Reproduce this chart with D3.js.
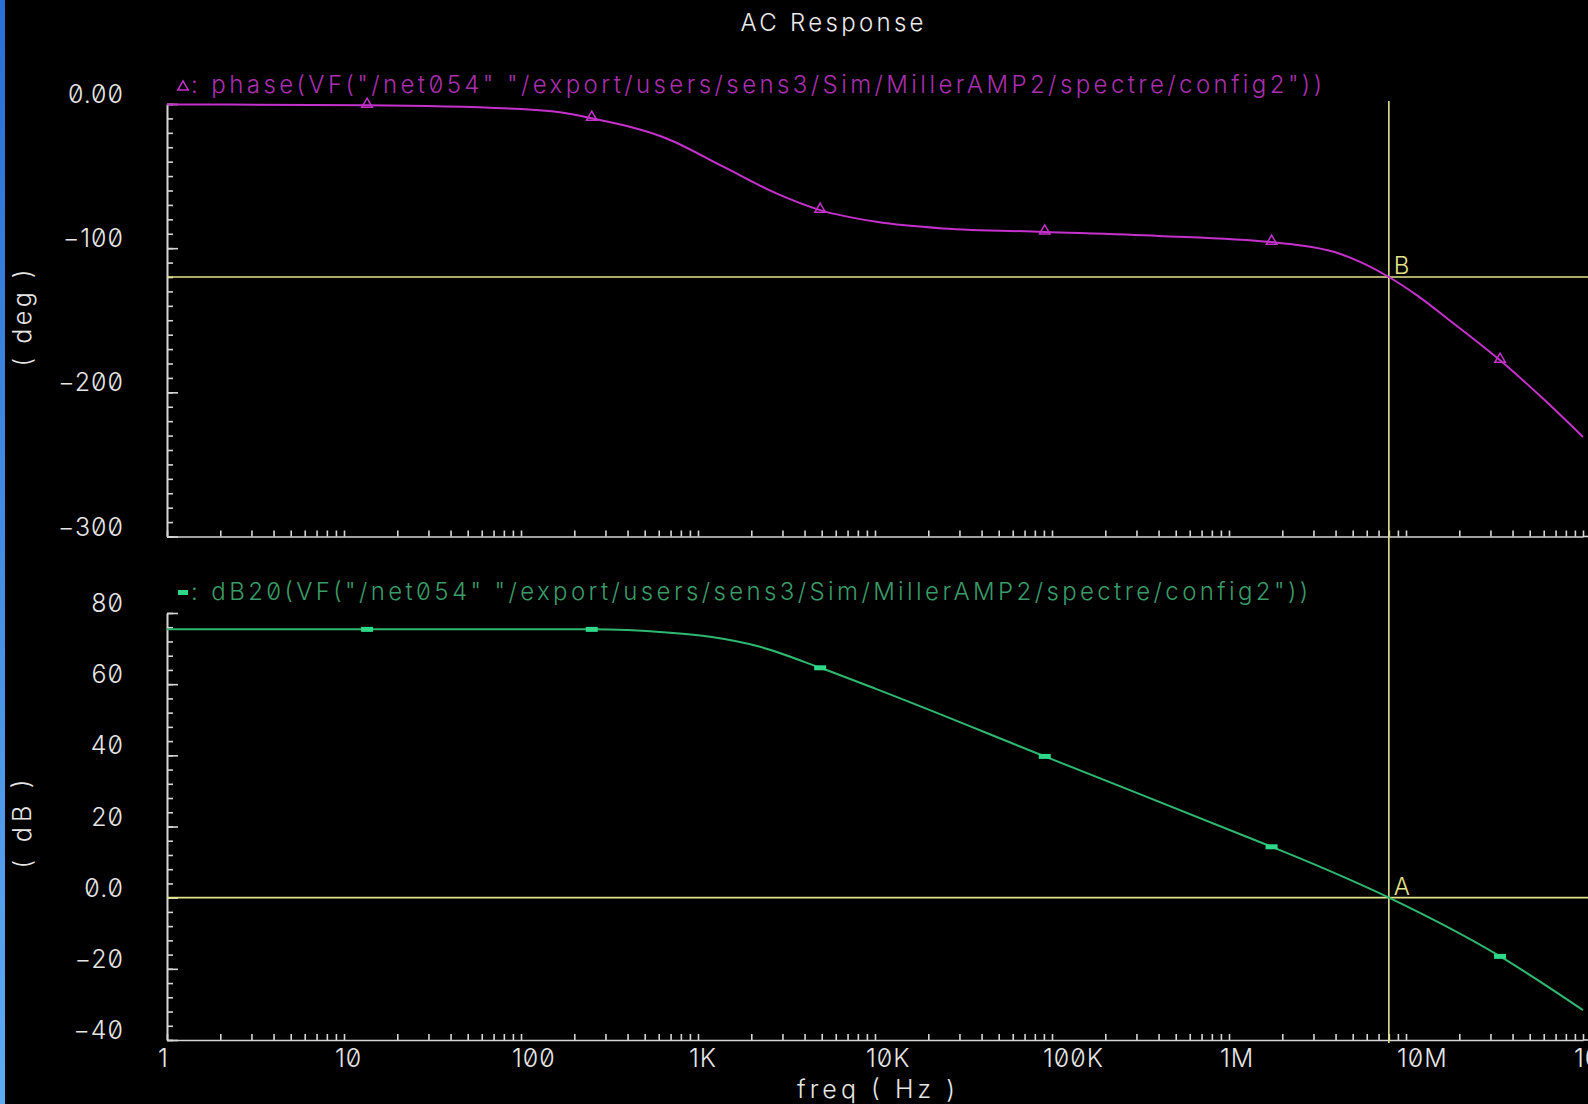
<!DOCTYPE html>
<html>
<head>
<meta charset="utf-8">
<script src="https://cdn.jsdelivr.net/npm/d3@7"></script>
<style>
  html, body { margin: 0; padding: 0; background: #000; overflow: hidden; }
  svg { display: block; }
  text { font-family: Inter, "DejaVu Sans", sans-serif; font-weight: 300; font-feature-settings: "zero" 1; }
</style>
</head>
<body>
<svg id="chart" width="1588" height="1104"></svg>
<script>
// Phase of VF("/net054") in degrees, sampled along the sweep
const phaseFreq = [1, 13.5, 100, 166, 251, 665, 1390, 2770, 4900, 10200, 24300, 91000,
                   400000, 1740000, 2500000, 3900000, 5500000, 8000000, 11500000,
                   17600000, 34000000, 59000000, 100000000];
const phaseDeg  = [-0.3, -0.9, -3.5, -5.8, -9.9, -23.9, -43.5, -62, -73.6, -81.7, -86.3, -88.7,
                   -91.5, -95.8, -97.9, -102.5, -109.5, -120, -132.6,
                   -150, -177.8, -204, -231];

// Magnitude dB20(VF("/net054"))
const gainFreq = [1, 13.5, 251, 665, 1170, 2240, 4900, 10200, 91000, 1740000, 2500000,
                  8000000, 34000000, 100000000];
const gainDb   = [75.4, 75.4, 75.4, 74.5, 73.3, 70.5, 64.6, 58.6, 39.7, 14.3, 11.1,
                  0, -16.5, -31.6];

// Frequencies carrying a trace symbol
const markerFreq = [13.5, 251, 4900, 91000, 1740000, 34000000];

// Cursor: unity-gain crossing (A) and phase at that frequency (B)
const cursorFreq = 8000000;
const cursorGain = 0;
const cursorPhase = -120;

// Axis ticks and labels
const xDecades = [1, 10, 100, 1e3, 1e4, 1e5, 1e6, 1e7, 1e8];
const xTickLabels = ["1", "10", "100", "1K", "10K", "100K", "1M", "10M", "100M"];
const phaseTicks = [0, -100, -200, -300];
const phaseTickLabels = ["0.00", "\u2212100", "\u2212200", "\u2212300"];
const gainTicks = [80, 60, 40, 20, 0, -20, -40];
const gainTickLabels = ["80", "60", "40", "20", "0.0", "\u221220", "\u221240"];

const title = "AC Response";
const phaseLegend = ': phase(VF("/net054" "/export/users/sens3/Sim/MillerAMP2/spectre/config2"))';
const gainLegend  = ': dB20(VF("/net054" "/export/users/sens3/Sim/MillerAMP2/spectre/config2"))';

const W = 1588, H = 1104;
const axisColor = "#d6d6d6";
const textColor = "#e6e6e6";
const phaseColor = "#c531cc";
const phaseTextColor = "#a92fb0";
const gainColor = "#2fb870";
const gainTextColor = "#3a9c66";
const gainMarkColor = "#2ed888";
const cursorColor = "#e4e48a";

const svg = d3.select("#chart");

svg.append("rect").attr("width", W).attr("height", H).attr("fill", "#000");

// desktop edge on the left
const defs = svg.append("defs");
const grad = defs.append("linearGradient").attr("id", "edge")
  .attr("x1", 0).attr("y1", 0).attr("x2", 0).attr("y2", 1);
grad.append("stop").attr("offset", 0).attr("stop-color", "#2a6fd4");
grad.append("stop").attr("offset", 1).attr("stop-color", "#5eaaf2");
svg.append("rect").attr("x", 0).attr("y", 0).attr("width", 5).attr("height", H).attr("fill", "url(#edge)");

const x = d3.scaleLog().domain([1, 1e8]).range([167, 1583]);
const yP = d3.scaleLinear().domain([-300, 0]).range([536.5, 104]);
const yG = d3.scaleLinear().domain([-40, 80]).range([1040, 613]);

// minor x ticks: 1..9 in every decade
const xMinor = [];
xDecades.slice(0, -1).forEach(d => { for (let k = 1; k <= 9; k++) xMinor.push(d * k); });
xMinor.push(1e8);

function styleAxis(g) {
  g.selectAll("path.domain").attr("stroke", axisColor).attr("stroke-width", 1.6);
  g.selectAll(".tick line").attr("stroke", axisColor).attr("stroke-width", 1.6);
  g.selectAll(".tick text").remove();
}

// y axes (ticks pointing into the plot)
function yAxis(scale, minorStep, majors) {
  const dom = scale.domain();
  const minor = d3.range(dom[0], dom[1] + minorStep / 2, minorStep);
  svg.append("g").attr("transform", "translate(167,0)")
    .call(d3.axisRight(scale).tickValues(minor).tickSize(6).tickSizeOuter(0).tickFormat(""))
    .call(styleAxis);
  svg.append("g").attr("transform", "translate(167,0)")
    .call(d3.axisRight(scale).tickValues(majors).tickSize(11).tickSizeOuter(0).tickFormat(""))
    .call(styleAxis);
}
yAxis(yP, 10, phaseTicks);
yAxis(yG, 4, gainTicks);

// x axes for both panels, running to the window edge
[yP(-300), yG(-40)].forEach(yy => {
  svg.append("g").attr("transform", `translate(0,${yy})`)
    .call(d3.axisTop(x).tickValues(xMinor).tickSize(6).tickSizeOuter(0).tickFormat(""))
    .call(styleAxis);
  svg.append("line").attr("x1", x(1e8)).attr("x2", W).attr("y1", yy).attr("y2", yy)
    .attr("stroke", axisColor).attr("stroke-width", 1.6);
});

// tick labels
const labelFont = 25;
svg.append("g").selectAll("text").data(phaseTicks).join("text")
  .attr("x", 124).attr("y", d => yP(d) - 1)
  .attr("text-anchor", "end").attr("font-size", labelFont).attr("letter-spacing", 1)
  .attr("fill", textColor).text((d, i) => phaseTickLabels[i]);
svg.append("g").selectAll("text").data(gainTicks).join("text")
  .attr("x", 124).attr("y", d => yG(d) - 1)
  .attr("text-anchor", "end").attr("font-size", labelFont).attr("letter-spacing", 1)
  .attr("fill", textColor).text((d, i) => gainTickLabels[i]);
svg.append("g").selectAll("text").data(xDecades).join("text")
  .attr("x", d => x(d) - 9).attr("y", 1067)
  .attr("text-anchor", "start").attr("font-size", labelFont).attr("letter-spacing", 1)
  .attr("fill", textColor).text((d, i) => xTickLabels[i]);

// axis titles
svg.append("text").attr("x", 876).attr("y", 1098).attr("text-anchor", "middle")
  .attr("font-size", labelFont).attr("fill", textColor).attr("textLength", 158)
  .attr("lengthAdjust", "spacing").text("freq ( Hz )");
svg.append("text").attr("transform", "translate(31,318) rotate(-90)").attr("text-anchor", "middle")
  .attr("font-size", labelFont).attr("fill", textColor).attr("textLength", 97)
  .attr("lengthAdjust", "spacing").text("( deg )");
svg.append("text").attr("transform", "translate(31,824) rotate(-90)").attr("text-anchor", "middle")
  .attr("font-size", labelFont).attr("fill", textColor).attr("textLength", 89)
  .attr("lengthAdjust", "spacing").text("( dB )");

// title
svg.append("text").attr("x", 832).attr("y", 31).attr("text-anchor", "middle")
  .attr("font-size", 24).attr("fill", "#ececec").attr("textLength", 183)
  .attr("lengthAdjust", "spacing").text(title);

// cursor lines
svg.append("line").attr("x1", x(1)).attr("x2", W)
  .attr("y1", yP(cursorPhase)).attr("y2", yP(cursorPhase))
  .attr("stroke", cursorColor).attr("stroke-width", 1.6);
svg.append("line").attr("x1", x(1)).attr("x2", W)
  .attr("y1", yG(cursorGain)).attr("y2", yG(cursorGain))
  .attr("stroke", cursorColor).attr("stroke-width", 1.6);
svg.append("line").attr("x1", x(cursorFreq)).attr("x2", x(cursorFreq))
  .attr("y1", yP(0) - 3).attr("y2", yG(-40) + 3)
  .attr("stroke", cursorColor).attr("stroke-width", 1.6);

// traces
const line = (fs, vs, y) => d3.line()
  .x((d, i) => x(fs[i])).y((d, i) => y(vs[i]))
  .curve(d3.curveMonotoneX)(vs);

svg.append("path").attr("d", line(phaseFreq, phaseDeg, yP))
  .attr("fill", "none").attr("stroke", phaseColor).attr("stroke-width", 2);
svg.append("path").attr("d", line(gainFreq, gainDb, yG))
  .attr("fill", "none").attr("stroke", gainColor).attr("stroke-width", 2);

// trace symbols
const tri = d3.symbol().type(d3.symbolTriangle).size(48);
svg.append("g").selectAll("path").data(markerFreq).join("path")
  .attr("transform", f => `translate(${x(f)},${yP(phaseDeg[phaseFreq.indexOf(f)]) - 1})`)
  .attr("d", tri).attr("fill", "none").attr("stroke", phaseColor).attr("stroke-width", 1.5);
svg.append("g").selectAll("rect").data(markerFreq).join("rect")
  .attr("x", f => x(f) - 6).attr("y", f => yG(gainDb[gainFreq.indexOf(f)]) - 2.5)
  .attr("width", 12).attr("height", 5).attr("fill", gainMarkColor);

// cursor letters
svg.append("text").attr("x", x(cursorFreq) + 5).attr("y", yP(cursorPhase) - 3)
  .attr("font-size", 24).attr("fill", cursorColor).text("B");
svg.append("text").attr("x", x(cursorFreq) + 5).attr("y", yG(cursorGain) - 3)
  .attr("font-size", 24).attr("fill", cursorColor).text("A");

// legends
svg.append("path").attr("transform", "translate(183,87)").attr("d", tri)
  .attr("fill", "none").attr("stroke", phaseColor).attr("stroke-width", 1.5);
svg.append("text").attr("x", 191).attr("y", 93).attr("font-size", 24)
  .attr("fill", phaseTextColor).attr("textLength", 1131).attr("lengthAdjust", "spacing")
  .text(phaseLegend);
svg.append("rect").attr("x", 178).attr("y", 590).attr("width", 10).attr("height", 5).attr("fill", gainMarkColor);
svg.append("text").attr("x", 191).attr("y", 600).attr("font-size", 24)
  .attr("fill", gainTextColor).attr("textLength", 1117).attr("lengthAdjust", "spacing")
  .text(gainLegend);
</script>
</body>
</html>
